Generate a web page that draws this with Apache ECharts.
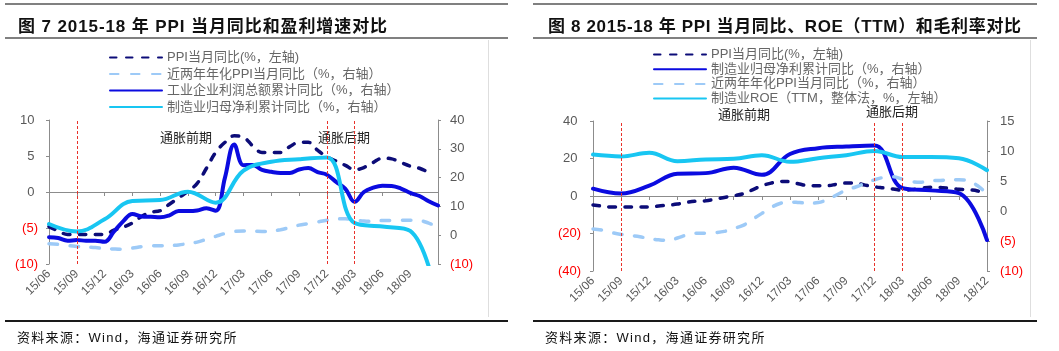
<!DOCTYPE html>
<html>
<head>
<meta charset="utf-8">
<script src="https://cdn.jsdelivr.net/npm/echarts@6.0.0/dist/echarts.min.js"></script>
<style>
  body { margin: 0; width: 1059px; height: 351px; background: #fff; position: relative; overflow: hidden;
         font-family: "Liberation Sans", "Noto Sans CJK SC", sans-serif; }
  .chart { position: absolute; top: 0; height: 351px; }
  .rule { position: absolute; height: 2px; background: #808080; }
  .black { background: #1a1a1a; height: 1.5px; }
  .vline { position: absolute; width: 1px; background: #dedede; top: 40px; height: 277px; }
  .title { position: absolute; top: 12px; font-size: 17px; font-weight: bold; color: #111; white-space: nowrap; }
  .source { position: absolute; top: 327px; font-size: 13px; color: #111; letter-spacing: 1.3px; white-space: nowrap; }
</style>
</head>
<body>
<div id="left" class="chart" style="left:0;width:530px"></div>
<div id="right" class="chart" style="left:530px;width:529px"></div>

<div class="rule" style="left:5px;top:3px;width:503px"></div>
<div class="title" style="left:18px;letter-spacing:0.9px">图 7 2015-18 年 PPI 当月同比和盈利增速对比</div>
<div class="rule" style="left:5px;top:37px;width:503px"></div>
<div class="vline" style="left:488px"></div>
<div class="rule black" style="left:5px;top:320px;width:503px"></div>
<div class="source" style="left:17px">资料来源：Wind，海通证券研究所</div>

<div class="rule" style="left:533px;top:3px;width:504px"></div>
<div class="title" style="left:548px;letter-spacing:0.65px">图 8 2015-18 年 PPI 当月同比、ROE（TTM）和毛利率对比</div>
<div class="rule" style="left:533px;top:37px;width:504px"></div>
<div class="vline" style="left:1030px"></div>
<div class="rule black" style="left:533px;top:320px;width:504px"></div>
<div class="source" style="left:545px">资料来源：Wind，海通证券研究所</div>

<script>
const FONT = '"Liberation Sans", "Noto Sans CJK SC", sans-serif';

const months = [
  '15/06','15/07','15/08','15/09','15/10','15/11','15/12',
  '16/01','16/02','16/03','16/04','16/05','16/06','16/07','16/08','16/09','16/10','16/11','16/12',
  '17/01','17/02','17/03','17/04','17/05','17/06','17/07','17/08','17/09','17/10','17/11','17/12',
  '18/01','18/02','18/03','18/04','18/05','18/06','18/07','18/08','18/09','18/10','18/11','18/12'
];
const quarters = ['15/06','15/09','15/12','16/03','16/06','16/09','16/12','17/03','17/06','17/09','17/12','18/03','18/06','18/09','18/12'];

// PPI当月同比, monthly
const ppiYoy = [
  -4.8,-5.4,-5.9,-5.9,-5.9,-5.9,-5.9,
  -5.3,-4.9,-4.3,-3.4,-2.8,-2.6,-1.7,-0.8,0.1,1.2,3.3,5.5,
  6.9,7.8,7.6,6.4,5.5,5.5,5.5,6.3,6.9,6.9,5.8,4.9,
  4.3,3.7,3.1,3.4,4.1,4.7,4.6,4.1,3.6,3.3,2.7,0.9
];
// 近两年年化PPI当月同比, monthly
const ppiTwoYear = [
  -3.0,-3.2,-3.6,-3.9,-4.1,-4.3,-4.6,
  -4.8,-4.9,-4.5,-4.0,-3.7,-3.7,-3.6,-3.4,-2.9,-2.4,-1.4,-0.4,
  0.6,1.3,1.5,1.4,1.3,1.4,1.9,2.7,3.5,4.0,4.6,5.2,
  5.6,5.7,5.3,4.9,4.8,5.1,5.1,5.2,5.2,5.1,4.2,2.9
];
// 工业企业利润总额累计同比, monthly
const industrialProfit = [
  -0.7,-1.0,-1.9,-1.7,-1.9,-1.9,-2.3,
  1.2,4.8,7.4,6.5,6.4,6.2,6.9,8.4,8.4,8.6,9.4,8.5,
  20.0,31.5,24.3,24.4,22.7,22.0,21.6,21.6,22.8,23.3,21.9,21.0,
  18.5,16.1,11.6,15.0,16.5,17.2,17.1,16.2,14.7,13.6,11.8,10.3
];
// 制造业归母净利累计同比, quarterly
const mfgNetProfit = [3.9,1.3,5.5,11.9,12.2,15.1,11.3,22.4,25.5,26.4,27.0,4.2,3.0,1.5,-23.5];
// 制造业ROE (TTM), quarterly
const mfgRoe = [9.4,9.1,9.7,8.3,8.6,8.7,9.3,8.2,8.8,9.3,10.0,9.0,9.0,8.8,6.8];

const leftMarks = ['15/09','17/12','18/03'];
const rightMarks = ['15/09','17/12','18/03'];

const C_PPI = '#0c0c78';
const C_LIGHT = '#9dcaf7';
const C_BLUE = '#0b0be0';
const C_CYAN = '#18c6f2';

const fmtNum = v => (Number(v) < 0 ? '(' + (-Number(v)) + ')' : v + ' ');
const numColor = v => (Number(v) < 0 ? '#ff0000' : '#595959');

const quarterPairs = vals => vals.map((v, i) => [quarters[i], v]);

const xAxes = (hideLast) => [
  {
    type: 'category', data: months, boundaryGap: false,
    axisLine: { onZero: true, onZeroAxisIndex: 0, lineStyle: { color: '#8c8c8c' } },
    axisTick: { interval: i => i % 3 === 0, length: 4, lineStyle: { color: '#8c8c8c' } },
    axisLabel: { show: false }
  },
  {
    type: 'category', data: months, boundaryGap: false, position: 'bottom',
    axisLine: { show: false, onZero: false }, axisTick: { show: false },
    axisLabel: {
      interval: i => i % 3 === 0 && !(hideLast && i === months.length - 1),
      rotate: 45, fontSize: 12, color: '#595959', margin: 8, fontFamily: FONT
    }
  }
];

const yAxis = (min, max, step, side, margin) => ({
  type: 'value', min: min, max: max, interval: step, position: side,
  axisLine: { show: true, lineStyle: { color: '#8c8c8c' } },
  axisTick: { show: true, length: 3, lineStyle: { color: '#8c8c8c' } },
  splitLine: { show: false },
  axisLabel: { formatter: fmtNum, color: numColor, fontSize: 13, margin: margin, fontFamily: FONT }
});

const markLine = marks => ({
  silent: true, symbol: ['none', 'none'], label: { show: false },
  lineStyle: { color: '#e8322a', type: [3, 2], width: 1 },
  data: marks.map(m => ({ xAxis: m }))
});

const line = (name, data, color, yIdx, extra) => Object.assign({
  name: name, type: 'line', data: data, yAxisIndex: yIdx, xAxisIndex: 0,
  symbol: 'none', showSymbol: false, smooth: 0.4, connectNulls: true,
  lineStyle: { color: color, width: 4, cap: 'round' }, itemStyle: { color: color }
}, extra || {});

const dashed = (name, data, color, yIdx, dash) => line(name, data, color, yIdx, {
  lineStyle: { color: color, width: 3.5, type: dash, cap: 'round' }
});

const note = (text, x, y) => ({
  type: 'text', x: x, y: y,
  style: { text: text, fill: '#222', font: '13px "Noto Sans CJK SC"', align: 'center', verticalAlign: 'middle',
           textAlign: 'center', textVerticalAlign: 'middle' }
});

// legend shows only the line, no symbol dot
const legendBase = (left, top, gap, names) => ({
  orient: 'vertical', left: left, top: top, itemWidth: 52, itemHeight: 14, itemGap: gap,
  itemStyle: { opacity: 0 },
  textStyle: { fontSize: 13, color: '#666', fontFamily: FONT }, data: names
});

// 图7
const L1 = 'PPI当月同比(%，左轴)';
const L2 = '近两年年化PPI当月同比（%，右轴）';
const L3 = '工业企业利润总额累计同比（%，右轴）';
const L4 = '制造业归母净利累计同比（%，右轴）';

const leftChart = echarts.init(document.getElementById('left'));
leftChart.setOption({
  animation: false,
  textStyle: { fontFamily: FONT },
  grid: { left: 49, top: 120, width: 389, height: 144 },
  legend: legendBase(104, 46, 3.5, [L1, L2, L3, L4]),
  xAxis: xAxes(true),
  yAxis: [yAxis(-10, 10, 5, 'left', 11), yAxis(-10, 40, 10, 'right', 12)],
  graphic: [note('通胀前期', 186, 137), note('通胀后期', 344, 137)],
  series: [
    dashed(L1, ppiYoy.slice(0, months.length - 1), C_PPI, 0, [6.5, 9.5]),
    dashed(L2, ppiTwoYear, C_LIGHT, 1, [8.5, 12.5]),
    line(L3, industrialProfit, C_BLUE, 1, { markLine: markLine(leftMarks) }),
    line(L4, quarterPairs(mfgNetProfit), C_CYAN, 1)
  ]
});

// 图8
const R1 = 'PPI当月同比(%，左轴)';
const R2 = '制造业归母净利累计同比（%，右轴）';
const R3 = '近两年年化PPI当月同比（%，右轴）';
const R4 = '制造业ROE（TTM，整体法，%，左轴）';

const rightChart = echarts.init(document.getElementById('right'));
rightChart.setOption({
  animation: false,
  textStyle: { fontFamily: FONT },
  grid: { left: 63, top: 121, width: 394, height: 150 },
  legend: legendBase(118, 43, 1.7, [R1, R2, R3, R4]),
  xAxis: xAxes(false),
  yAxis: [yAxis(-40, 40, 20, 'left', 12), yAxis(-10, 15, 5, 'right', 13)],
  graphic: [note('通胀前期', 214, 114), note('通胀后期', 362, 111)],
  series: [
    dashed(R1, ppiYoy, C_PPI, 0, [6.5, 9.5]),
    line(R2, quarterPairs(mfgNetProfit), C_BLUE, 0, { markLine: markLine(rightMarks) }),
    dashed(R3, ppiTwoYear, C_LIGHT, 1, [8.5, 12.5]),
    line(R4, quarterPairs(mfgRoe), C_CYAN, 1)
  ]
});
</script>
</body>
</html>
